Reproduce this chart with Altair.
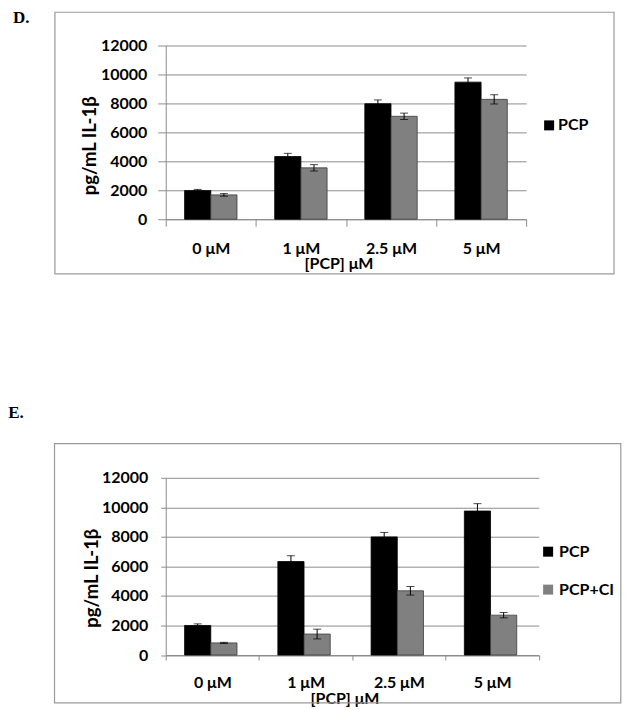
import altair as alt
import pandas as pd

# ---- data ----
conc = ["0 μM", "1 μM", "2.5 μM", "5 μM"]
series = ["PCP", "PCP+CI"]

d_pcp = [1980, 4330, 7980, 9470]
d_pcp_err = [80, 220, 260, 290]
d_ci = [1680, 3550, 7110, 8280]
d_ci_err = [90, 220, 220, 320]

e_pcp = [2000, 6330, 8000, 9750]
e_pcp_err = [110, 400, 300, 500]
e_ci = [820, 1420, 4350, 2700]
e_ci_err = [40, 330, 290, 180]

y_ticks = [0, 2000, 4000, 6000, 8000, 10000, 12000]
colors = ["#000000", "#808080"]
GRAY = "#8c8c8c"
FONT = "Lato"


def make_df(a, a_err, b, b_err):
    rows = []
    for s, vals, errs in [(series[0], a, a_err), (series[1], b, b_err)]:
        for c, v, e in zip(conc, vals, errs):
            rows.append({"conc": c, "series": s, "value": v, "lo": v - e, "hi": v + e})
    return pd.DataFrame(rows)


def panel(df, letter, w, h, letter_x, letter_y, fr, legend_vals, lx, ly, loff,
          ytick, ylabpad, ytx, yty, xtick, xlabpad, xtx, xty, rowpad):
    xs = alt.X("conc:N", sort=conc,
               scale=alt.Scale(paddingInner=0, paddingOuter=0),
               axis=alt.Axis(title="[PCP] μM", tickBand="extent", labelAngle=0,
                             tickSize=xtick, labelPadding=xlabpad,
                             titleX=xtx, titleY=xty, titleAlign="center",
                             titleBaseline="middle"))
    xo = alt.XOffset("series:N", sort=series,
                     scale=alt.Scale(paddingInner=0, paddingOuter=0.72))
    yscale = alt.Scale(domain=[0, 12000], nice=False)
    yaxis = alt.Axis(values=y_ticks, format="d", grid=True,
                     tickSize=ytick, labelPadding=ylabpad,
                     title="pg/mL IL-1β", titleAngle=270, titleFontSize=18.5,
                     titleX=ytx, titleY=yty, titleAlign="center",
                     titleBaseline="middle")
    color = alt.Color("series:N",
                      scale=alt.Scale(domain=series, range=colors),
                      legend=alt.Legend(values=legend_vals, orient="none",
                                        legendX=lx, legendY=ly, title=None,
                                        symbolType="square", symbolSize=100,
                                        symbolStrokeWidth=0, labelOffset=loff,
                                        rowPadding=rowpad, padding=0))
    base = alt.Chart(df)
    bars = base.mark_bar().encode(
        x=xs, xOffset=xo, y=alt.Y("value:Q", scale=yscale, axis=yaxis), color=color,
        stroke=alt.Stroke("series:N", scale=alt.Scale(domain=series, range=["#000000", "#3c3c3c"]), legend=None),
        strokeWidth=alt.value(0.8),
    )
    rules = base.mark_rule(color="black", strokeWidth=1).encode(
        x=xs, xOffset=xo, y=alt.Y("lo:Q", scale=yscale, axis=yaxis), y2="hi:Q")
    cap_hi = base.mark_tick(color="black", size=8, thickness=1).encode(
        x=xs, xOffset=xo, y=alt.Y("hi:Q", scale=yscale, axis=yaxis))
    cap_lo = base.mark_tick(color="black", size=8, thickness=1).encode(
        x=xs, xOffset=xo, y=alt.Y("lo:Q", scale=yscale, axis=yaxis))
    frame = alt.Chart(alt.Data(values=[{"f": 1}])).mark_rect(
        fillOpacity=0, stroke="#9a9a9a", strokeWidth=1.2).encode(
        x=alt.value(fr[0]), x2=alt.value(fr[1]), y=alt.value(fr[2]), y2=alt.value(fr[3]))
    lab = alt.Chart(alt.Data(values=[{"t": letter}])).mark_text(
        font="Liberation Serif", fontWeight="bold", fontSize=17,
        align="left", baseline="alphabetic", color="black").encode(
        x=alt.value(letter_x), y=alt.value(letter_y), text="t:N")
    return alt.layer(frame, bars, rules, cap_hi, cap_lo, lab).properties(width=w, height=h)


df_d = make_df(d_pcp, d_pcp_err, d_ci, d_ci_err)
df_e = make_df(e_pcp, e_pcp_err, e_ci, e_ci_err)

pD = panel(df_d, "D.", 361, 174, -153, -22.7, [-111, 449, -33.3, 228.7], ["PCP"], 376, 72, 1,
           8, 11, -76, 100, 7, 14, 173, 44, 22)
pE = panel(df_e, "E.", 373.6, 177.5, -157.7, -60, [-111.4, 455.8, -34.3, 225.5], series, 375, 66, 3,
           5, 13, -74, 100, 5, 15, 179, 44, 22)

chart = alt.vconcat(pD, pE, spacing=129).properties(padding=0).resolve_legend(
    color="independent"
).resolve_scale(color="independent", stroke="independent").configure_view(
    stroke=None
).configure_axis(
    labelFont=FONT, labelFontWeight="bold", labelFontSize=16, labelColor="black",
    titleFont=FONT, titleFontWeight="bold", titleFontSize=16, titleColor="black",
    domainColor=GRAY, tickColor=GRAY, gridColor=GRAY, gridOpacity=1, domainWidth=1,
).configure_legend(
    labelFont=FONT, labelFontWeight="bold", labelFontSize=16, labelColor="black",
)

chart.save("out.html", embed_options={"renderer": "svg", "actions": False})
